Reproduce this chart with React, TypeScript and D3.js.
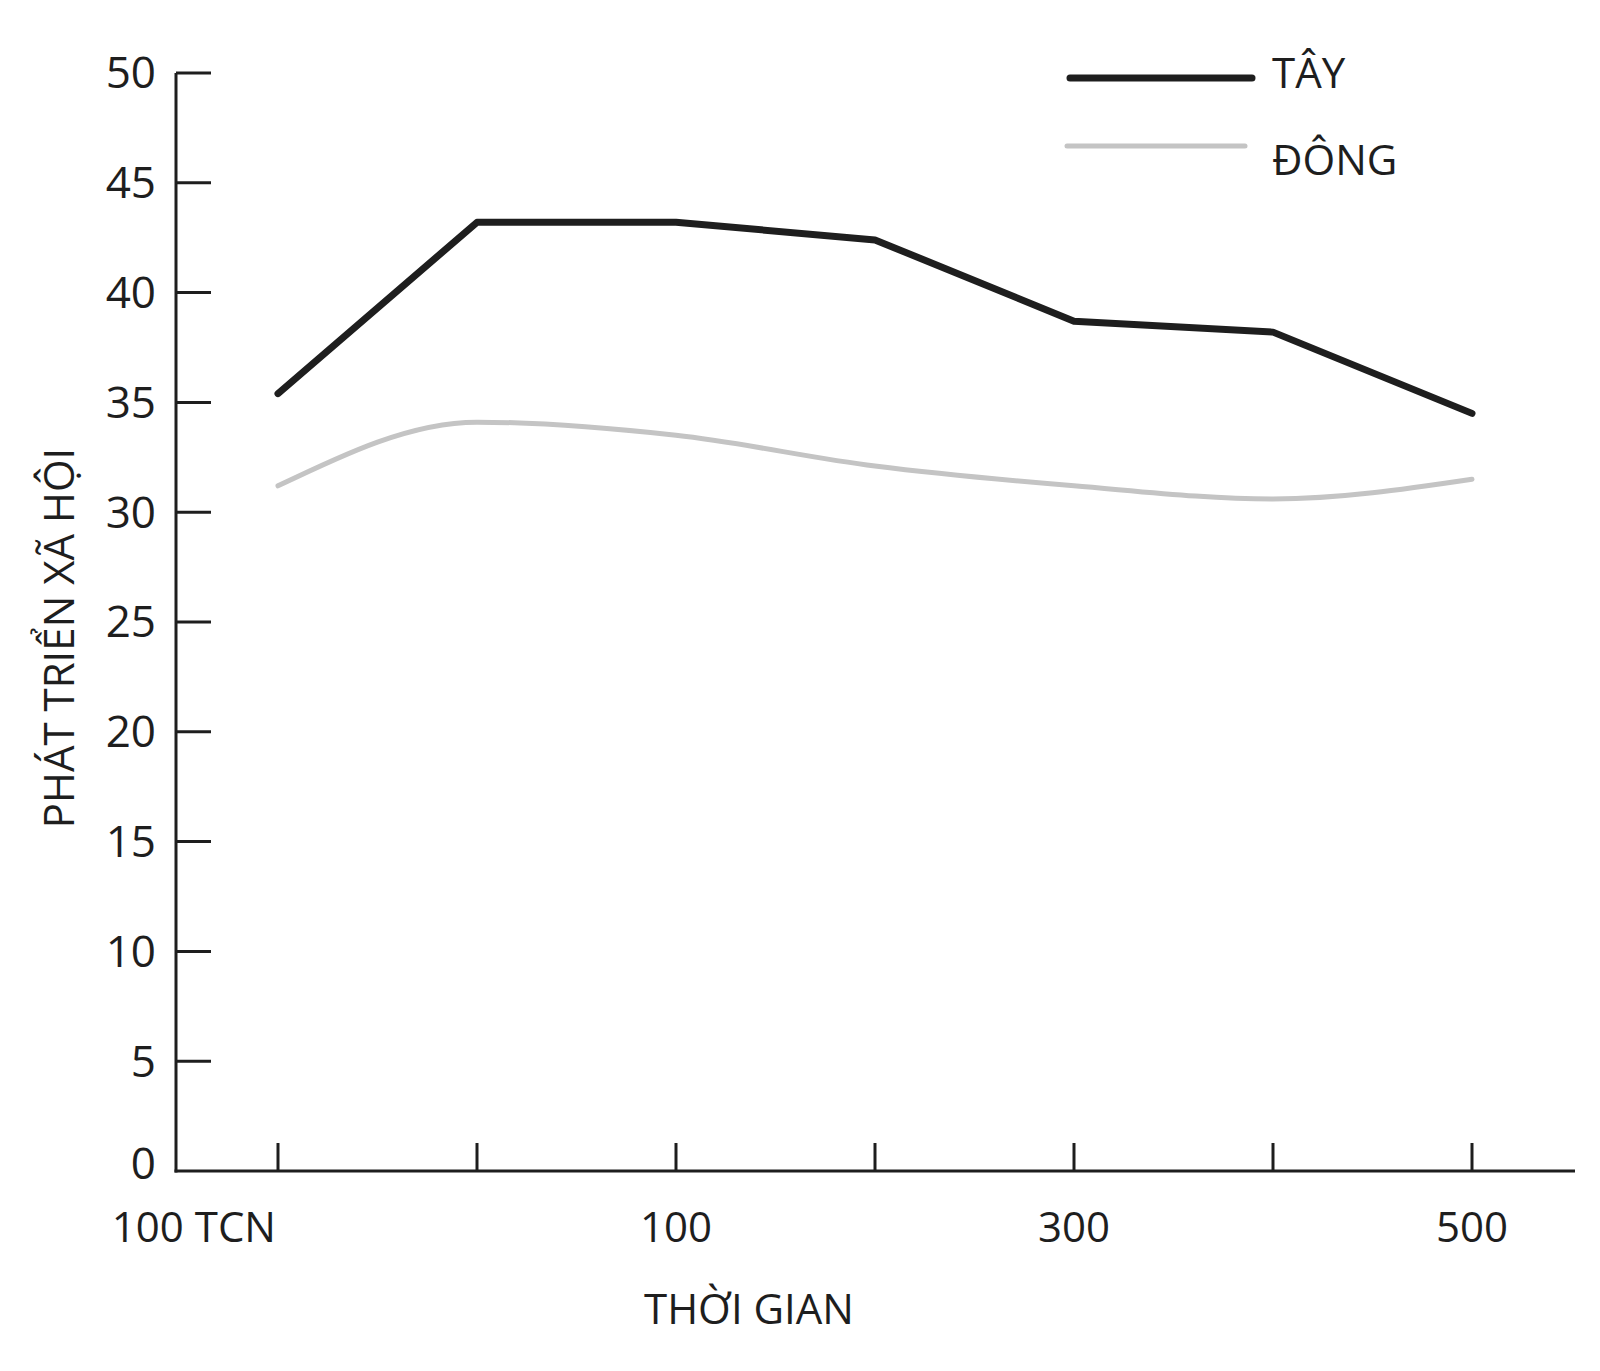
import React from "react";
import * as d3 from "d3";

const years = [-100, 0, 100, 200, 300, 400, 500];
const westValues = [35.4, 43.2, 43.2, 42.4, 38.7, 38.2, 34.5];
const eastValues = [31.2, 34.1, 33.5, 32.1, 31.2, 30.6, 31.5];
const yTicks = [0, 5, 10, 15, 20, 25, 30, 35, 40, 45, 50];
const xLabels: { year: number; label: string }[] = [
  { year: -100, label: "100 TCN" },
  { year: 100, label: "100" },
  { year: 300, label: "300" },
  { year: 500, label: "500" },
];
const seriesNames = ["TÂY", "ĐÔNG"];
const yTitle = "PHÁT TRIỂN XÃ HỘI";
const xTitle = "THỜI GIAN";

const W = 1600;
const H = 1371;
const FONT = "'Open Sans', 'Noto Sans', sans-serif";
const INK = "#1e1e1e";
const GRAY = "#c4c4c4";

export default function App() {
  const axisX = 176;
  const x = d3.scaleLinear().domain([-100, 500]).range([278, 1472]);
  const y = d3.scaleLinear().domain([0, 50]).range([1171, 73]);

  const west = years.map((yr, i) => [yr, westValues[i]] as [number, number]);
  const east = years.map((yr, i) => [yr, eastValues[i]] as [number, number]);

  const lineLinear = d3
    .line<[number, number]>()
    .x((d) => x(d[0]))
    .y((d) => y(d[1]))
    .curve(d3.curveLinear);
  const lineSmooth = d3
    .line<[number, number]>()
    .x((d) => x(d[0]))
    .y((d) => y(d[1]))
    .curve(d3.curveMonotoneX);

  const y0 = y(0);

  return (
    <svg
      width={W}
      height={H}
      viewBox={`0 0 ${W} ${H}`}
      style={{ position: "absolute", left: 0, top: 0, background: "#fff" }}
      fontFamily={FONT}
    >
      <rect x={0} y={0} width={W} height={H} fill="#fff" />

      {/* Y axis */}
      <line x1={axisX} y1={y(50)} x2={axisX} y2={y0 + 1.5} stroke={INK} strokeWidth={3} />
      {yTicks.map((t) => (
        <g key={t}>
          {t !== 0 && (
            <line x1={axisX} x2={axisX + 35} y1={y(t)} y2={y(t)} stroke={INK} strokeWidth={3} />
          )}
          <text
            x={156}
            y={y(t) - (t === 0 ? 7 : 0)}
            dy="0.35em"
            textAnchor="end"
            fontSize={44}
            fill={INK}
          >
            {t}
          </text>
        </g>
      ))}

      {/* X axis */}
      <line x1={axisX - 1.5} y1={y0} x2={1575} y2={y0} stroke={INK} strokeWidth={3} />
      {years.map((yr) => (
        <line key={yr} x1={x(yr)} x2={x(yr)} y1={y0} y2={y0 - 28} stroke={INK} strokeWidth={3} />
      ))}
      {xLabels.map((l, i) => (
        <text
          key={l.label}
          x={i === 0 ? x(l.year) - 2 : x(l.year)}
          y={1242}
          textAnchor={i === 0 ? "end" : "middle"}
          fontSize={42}
          fill={INK}
        >
          {l.label}
        </text>
      ))}

      {/* Titles */}
      <text x={749} y={1324} textAnchor="middle" fontSize={42} fill={INK}>
        {xTitle}
      </text>
      <text
        transform={`translate(74, 638) rotate(-90)`}
        textAnchor="middle"
        fontSize={42}
        fill={INK}
      >
        {yTitle}
      </text>

      {/* Series */}
      <path
        d={lineSmooth(east) || ""}
        fill="none"
        stroke={GRAY}
        strokeWidth={5}
        strokeLinecap="round"
        strokeLinejoin="round"
      />
      <path
        d={lineLinear(west) || ""}
        fill="none"
        stroke={INK}
        strokeWidth={7}
        strokeLinecap="round"
        strokeLinejoin="round"
      />

      {/* Legend */}
      <line x1={1070} x2={1252} y1={78} y2={78} stroke={INK} strokeWidth={7} strokeLinecap="round" />
      <text x={1272} y={88} fontSize={42} fill={INK}>
        {seriesNames[0]}
      </text>
      <line
        x1={1067}
        x2={1245}
        y1={146}
        y2={146}
        stroke={GRAY}
        strokeWidth={5}
        strokeLinecap="round"
      />
      <text x={1272} y={175} fontSize={42} fill={INK}>
        {seriesNames[1]}
      </text>
    </svg>
  );
}
